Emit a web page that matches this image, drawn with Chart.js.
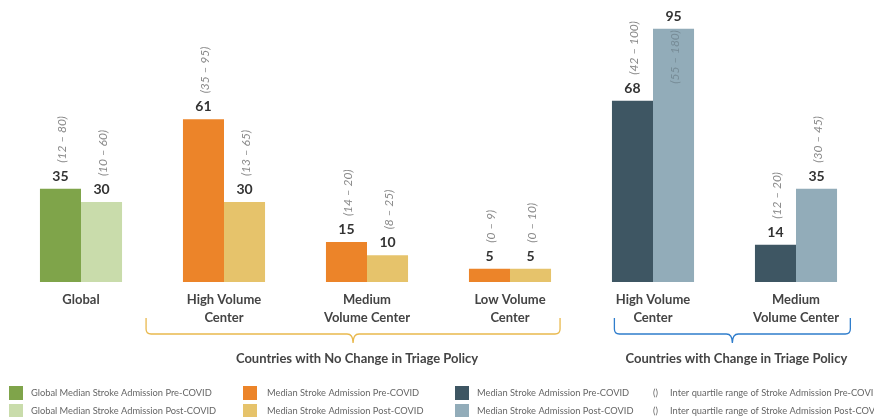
<!DOCTYPE html>
<html>
<head>
<meta charset="utf-8">
<script src="https://cdn.jsdelivr.net/npm/chart.js@4/dist/chart.umd.min.js"></script>
<style>
  html, body { margin: 0; padding: 0; background: #fff; }
  #wrap { width: 874px; height: 417px; position: relative; }
</style>
</head>
<body>
<div id="wrap"><canvas id="strokeChart"></canvas></div>
<script>
// Chart data
const categories = ['Global', ['High Volume', 'Center'], ['Medium', 'Volume Center'], ['Low Volume', 'Center'], ['High Volume', 'Center'], ['Medium', 'Volume Center']];
const preValues = [35, 61, 15, 5, 68, 14];
const postValues = [30, 30, 10, 5, 95, 35];
const preIQR = ['(12 – 80)', '(35 – 95)', '(14 – 20)', '(0 – 9)', '(42 – 100)', '(12 – 20)'];
const postIQR = ['(10 – 60)', '(13 – 65)', '(8 – 25)', '(0 – 10)', '(55 – 180)', '(30 – 45)'];
const preColors = ['#7fa44a', '#ec8429', '#ec8429', '#ec8429', '#3e5663', '#3e5663'];
const postColors = ['#c9dcab', '#e6c36b', '#e6c36b', '#e6c36b', '#92acb9', '#92acb9'];

// Group brackets under the axis
const groupNames = ['Countries with No Change in Triage Policy', 'Countries with Change in Triage Policy'];
const groupColors = ['#e9b94e', '#2f7dcc'];
const groupFirst = [1, 4];
const groupLast = [3, 5];

// Legend texts
const legendPre = ['Global Median Stroke Admission Pre-COVID', 'Median Stroke Admission Pre-COVID', 'Median Stroke Admission Pre-COVID', 'Inter quartile range of Stroke Admission Pre-COVID'];
const legendPost = ['Global Median Stroke Admission Post-COVID', 'Median Stroke Admission Post-COVID', 'Median Stroke Admission Post-COVID', 'Inter quartile range of Stroke Admission Post-COVID'];

const textFont = 'Lato, "Open Sans", sans-serif';

// Value labels and rotated IQR labels above each bar
const labelPlugin = {
    id: 'barLabels',
    afterDatasetsDraw(chart) {
        const ctx = chart.ctx;
        const iqrSets = [preIQR, postIQR];
        chart.data.datasets.forEach((ds, di) => {
            const meta = chart.getDatasetMeta(di);
            meta.data.forEach((bar, i) => {
                const value = ds.data[i];
                ctx.save();
                ctx.fillStyle = '#333';
                ctx.font = 'bold 14px ' + textFont;
                ctx.textAlign = 'center';
                ctx.textBaseline = 'alphabetic';
                ctx.fillText(String(value), bar.x, bar.y - 8);

                // IQR text, rotated to read upward; inside the bar when no room above
                const inside = bar.y < 60;
                const startY = inside ? bar.y + 55 : bar.y - 26;
                ctx.translate(bar.x + 2, startY);
                ctx.rotate(-Math.PI / 2);
                ctx.font = 'italic 12px ' + textFont;
                ctx.fillStyle = inside ? '#778c97' : '#8a8a8a';
                ctx.textAlign = 'left';
                ctx.textBaseline = 'middle';
                ctx.fillText(iqrSets[di][i], 0, 0);
                ctx.restore();
            });
        });
    }
};

// Curly brackets, group titles and the legend
const annotationPlugin = {
    id: 'groupAnnotations',
    afterDraw(chart) {
        const ctx = chart.ctx;
        const x = chart.scales.x;
        const step = x.getPixelForValue(1) - x.getPixelForValue(0);
        const leftOff = [0.545, 0.27];
        const rightOff = [0.35, 0.38];
        const top = 318, line = 334, tip = 343, r = 5;

        groupNames.forEach((name, g) => {
            const L = x.getPixelForValue(groupFirst[g]) - leftOff[g] * step;
            const R = x.getPixelForValue(groupLast[g]) + rightOff[g] * step;
            const C = (L + R) / 2;
            ctx.save();
            ctx.strokeStyle = groupColors[g];
            ctx.lineWidth = 1.3;
            ctx.beginPath();
            ctx.moveTo(L, top);
            ctx.lineTo(L, line - r);
            ctx.quadraticCurveTo(L, line, L + r, line);
            ctx.lineTo(C - 6, line);
            ctx.quadraticCurveTo(C, line, C, tip);
            ctx.quadraticCurveTo(C, line, C + 6, line);
            ctx.lineTo(R - r, line);
            ctx.quadraticCurveTo(R, line, R, line - r);
            ctx.lineTo(R, top);
            ctx.stroke();

            ctx.fillStyle = '#444';
            ctx.font = 'bold 13px ' + textFont;
            ctx.textAlign = 'center';
            ctx.textBaseline = 'middle';
            ctx.fillText(name, C + 4, 359);
            ctx.restore();
        });

        // Legend: four columns, two rows
        const swatchX = [9, 243, 455];
        const textX = [31, 267, 477, 670];
        const rowY = [393, 411];
        ctx.save();
        ctx.font = '9.3px ' + textFont;
        ctx.textBaseline = 'middle';
        ctx.textAlign = 'left';
        for (let c = 0; c < 4; c++) {
            for (let row = 0; row < 2; row++) {
                if (c < 3) {
                    const colorIdx = c === 0 ? 0 : (c === 1 ? 1 : 4);
                    ctx.fillStyle = row === 0 ? preColors[colorIdx] : postColors[colorIdx];
                    ctx.fillRect(swatchX[c], rowY[row] - 7, 14, 14);
                } else {
                    ctx.fillStyle = '#666';
                    ctx.fillText('()', 653, rowY[row]);
                }
                ctx.fillStyle = '#666';
                ctx.fillText(row === 0 ? legendPre[c] : legendPost[c], textX[c], rowY[row]);
            }
        }
        ctx.restore();
    }
};

function initChart() {
    const ctx = document.getElementById('strokeChart').getContext('2d');
    new Chart(ctx, {
        type: 'bar',
        data: {
            labels: categories,
            datasets: [
                {
                    label: 'Pre-COVID',
                    data: preValues,
                    backgroundColor: preColors,
                    borderWidth: 0
                },
                {
                    label: 'Post-COVID',
                    data: postValues,
                    backgroundColor: postColors,
                    borderWidth: 0
                }
            ]
        },
        options: {
            responsive: true,
            maintainAspectRatio: false,
            animation: false,
            categoryPercentage: 0.574,
            barPercentage: 1,
            layout: {
                padding: { top: 2, left: 9.5, right: 6.5, bottom: 0 }
            },
            scales: {
                x: {
                    grid: { display: false, drawTicks: false },
                    border: { display: false },
                    ticks: {
                        color: '#444',
                        font: { family: textFont, size: 13, weight: 'bold', lineHeight: 1.45 },
                        padding: 8,
                        maxRotation: 0,
                        autoSkip: false
                    },
                    afterFit(scale) {
                        scale.height = 135;
                    }
                },
                y: {
                    display: false,
                    min: 0,
                    max: 105
                }
            },
            plugins: {
                legend: { display: false },
                tooltip: { enabled: false }
            }
        },
        plugins: [labelPlugin, annotationPlugin]
    });
}

document.addEventListener('DOMContentLoaded', initChart);
</script>
</body>
</html>
